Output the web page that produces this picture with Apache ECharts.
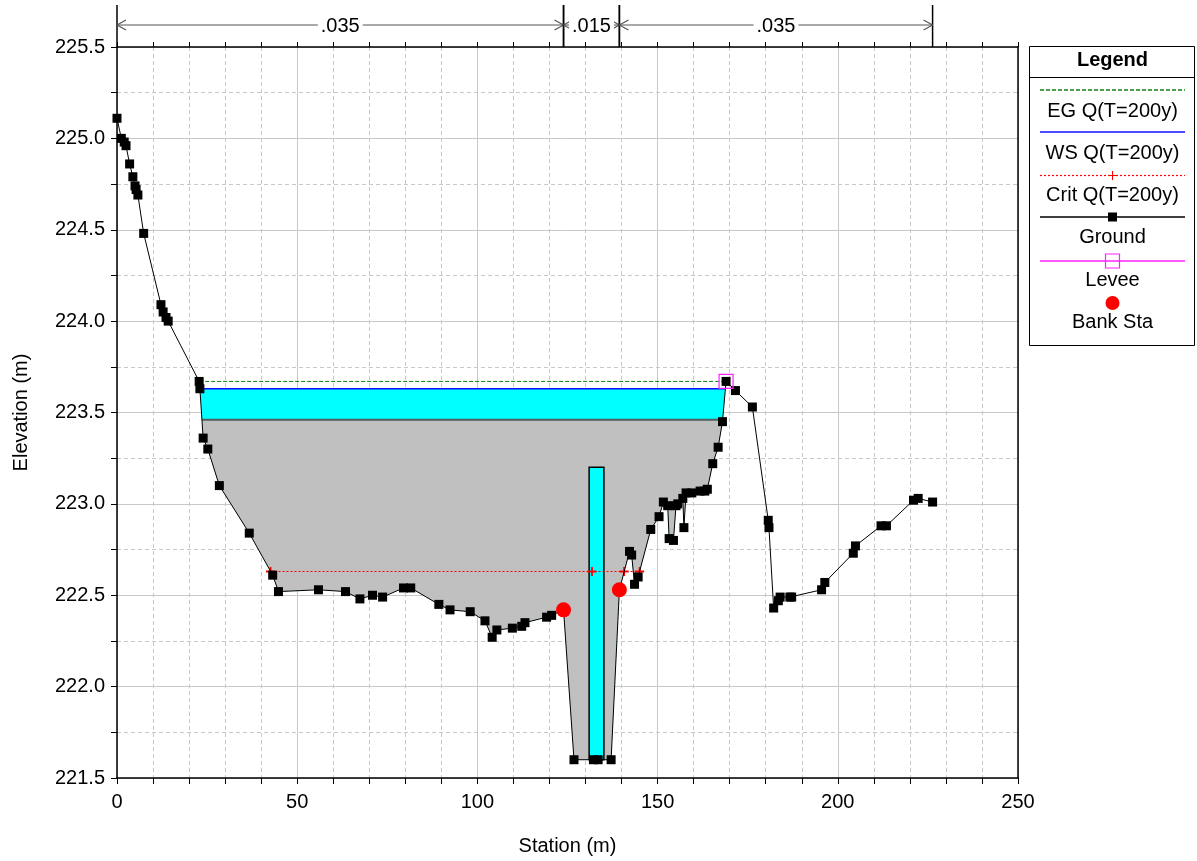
<!DOCTYPE html>
<html><head><meta charset="utf-8">
<script src="https://cdn.jsdelivr.net/npm/echarts@6/dist/echarts.min.js"></script>
<style>html,body{margin:0;padding:0;background:#fff}#c{width:1197px;height:861px}</style>
</head><body><div id="c"></div>
<script>
// ---------------- data ----------------
const groundStation = [0, 1.2, 2.0, 2.5, 3.5, 4.4, 5.0, 5.3, 5.8, 7.4, 12.2, 12.8, 13.6, 14.2,
  22.8, 23.0, 23.9, 25.2, 28.4, 36.7, 43.2, 44.8, 55.9, 63.4, 67.4, 70.9, 73.7, 79.5, 81.5,
  89.3, 92.4, 98.0, 102.1, 104.1, 105.4, 109.7, 112.3, 113.2, 119.2, 120.6, 123.9,
  126.8, 132.2, 133.5, 137.1, 139.4, 142.2, 142.8, 143.6, 144.6, 148.1, 150.4, 151.6, 152.8,
  153.2, 154.4, 155.1, 155.6, 157.0, 157.3, 157.9, 159.5, 161.8, 163.1, 163.8, 165.3, 166.8,
  168.0, 169.0, 171.6, 176.3, 180.7, 180.9, 182.2, 183.5, 184.0, 186.7, 187.2, 195.5, 196.4,
  204.3, 204.9, 212.0, 213.5, 221.0, 222.3, 226.3];
const groundElev = [225.11, 225.00, 224.98, 224.96, 224.86, 224.79, 224.74, 224.72, 224.69, 224.48,
  224.09, 224.05, 224.02, 224.00, 223.67, 223.63, 223.36, 223.30, 223.10, 222.84, 222.61, 222.52,
  222.53, 222.52, 222.48, 222.50, 222.49, 222.54, 222.54, 222.45, 222.42, 222.41, 222.36, 222.27,
  222.31, 222.32, 222.33, 222.35, 222.38, 222.39, 222.42, 221.60, 221.60, 221.60, 221.60, 222.53,
  222.74, 222.72, 222.56, 222.60, 222.86, 222.93, 223.01, 222.99, 222.81, 222.80, 222.99, 223.00,
  223.03, 222.87, 223.06, 223.06, 223.07, 223.07, 223.08, 223.22, 223.31, 223.45, 223.67, 223.62,
  223.53, 222.91, 222.87, 222.43, 222.47, 222.49, 222.49, 222.49, 222.53, 222.57, 222.73, 222.77,
  222.88, 222.88, 223.02, 223.03, 223.01];
const bankStation = [123.9, 139.4];
const bankElev = [222.42, 222.53];
const leveeStation = [169.0];
const leveeElev = [223.67];
const egElev = 223.67;
const wsElev = 223.63;
const iceBottomElev = 223.46;
const critElev = 222.63;
const critStations = [42.6, 131.8, 140.7, 145.0];
const pierStations = [131.0, 135.1];
const pierElevs = [221.60, 223.20];
const nBreaks = [0, 123.9, 139.4, 226.3];
const nValues = ['.035', '.015', '.035'];
const legendLabels = ['EG Q(T=200y)', 'WS Q(T=200y)', 'Crit Q(T=200y)', 'Ground', 'Levee', 'Bank Sta'];

// ---------------- helpers ----------------
const FONT = '"Liberation Sans", Arial, Helvetica, sans-serif';
function crossings(level) {
  let iMin = 0;
  for (let i = 1; i < groundElev.length; i++) if (groundElev[i] < groundElev[iMin]) iMin = i;
  let iL = iMin; while (iL > 0 && groundElev[iL - 1] < level) iL--;
  let iR = iMin; while (iR < groundElev.length - 1 && groundElev[iR + 1] < level) iR++;
  const interp = (a, b) => {
    const t = (level - groundElev[a]) / (groundElev[b] - groundElev[a]);
    return groundStation[a] + t * (groundStation[b] - groundStation[a]);
  };
  return { iL, iR, left: interp(iL - 1, iL), right: interp(iR, iR + 1) };
}
function fillSeries(level, color, z) {
  const c = crossings(level);
  const pts = [[c.left, level]];
  for (let i = c.iL; i <= c.iR; i++) pts.push([groundStation[i], groundElev[i]]);
  pts.push([c.right, level]);
  return {
    type: 'custom', z, silent: true, data: [[c.left, level]],
    renderItem: (p, api) => ({ type: 'polygon', shape: { points: pts.map(q => api.coord(q)) }, style: { fill: color } })
  };
}
function levelLine(level, color, width, type, z) {
  const c = crossings(level);
  return { type: 'line', z, silent: true, symbol: 'none', data: [[c.left, level], [c.right, level]],
    lineStyle: { color, width, type } };
}

const ground = groundStation.map((s, i) => [s, groundElev[i]]);

const option = {
  backgroundColor: '#fff',
  animation: false,
  grid: { left: 117, right: 179, top: 47, bottom: 80 },
  xAxis: [{
    type: 'value', min: 0, max: 250, interval: 50, position: 'bottom',
    name: 'Station (m)', nameLocation: 'middle', nameGap: 58,
    nameTextStyle: { fontFamily: FONT, fontSize: 20, color: '#000' },
    axisLine: { show: true, onZero: false, lineStyle: { color: '#000', width: 1.5 } },
    axisTick: { show: true, length: 6, lineStyle: { color: '#000' } },
    minorTick: { show: true, splitNumber: 5, length: 6, lineStyle: { color: '#000' } },
    axisLabel: { fontFamily: FONT, fontSize: 20, color: '#000', margin: 14 },
    splitLine: { show: true, lineStyle: { color: '#c8c8c8', width: 1 } },
    minorSplitLine: { show: true, lineStyle: { color: '#c8c8c8', width: 1, type: [4, 3] } }
  }, {
    type: 'value', min: 0, max: 250, interval: 10, position: 'top',
    axisLine: { show: true, onZero: false, lineStyle: { color: '#000', width: 1.5 } },
    axisTick: { show: true, length: 5, lineStyle: { color: '#000' } },
    axisLabel: { show: false }, splitLine: { show: false }
  }],
  yAxis: [{
    type: 'value', min: 221.5, max: 225.5, interval: 0.5,
    name: 'Elevation (m)', nameLocation: 'middle', nameGap: 86,
    nameTextStyle: { fontFamily: FONT, fontSize: 20, color: '#000' },
    axisLine: { show: true, onZero: false, lineStyle: { color: '#000', width: 1.5 } },
    axisTick: { show: true, length: 6, lineStyle: { color: '#000' } },
    minorTick: { show: true, splitNumber: 2, length: 6, lineStyle: { color: '#000' } },
    axisLabel: { fontFamily: FONT, fontSize: 20, color: '#000', margin: 12, formatter: v => v.toFixed(1) },
    splitLine: { show: true, lineStyle: { color: '#c8c8c8', width: 1 } },
    minorSplitLine: { show: true, lineStyle: { color: '#c8c8c8', width: 1, type: [4, 3] } }
  }, {
    type: 'value', min: 221.5, max: 225.5, position: 'right',
    axisLine: { show: true, onZero: false, lineStyle: { color: '#000', width: 1.5 } },
    axisTick: { show: false }, axisLabel: { show: false }, splitLine: { show: false }
  }],
  series: [
    fillSeries(wsElev, '#00ffff', 1),
    fillSeries(iceBottomElev, '#c0c0c0', 2),
    levelLine(iceBottomElev, '#4f5f5f', 2, 'solid', 3),
    {
      type: 'custom', z: 4, silent: true, data: [[pierStations[0], pierElevs[1]]],
      renderItem: (p, api) => {
        const a = api.coord([pierStations[0], pierElevs[1]]);
        const b = api.coord([pierStations[1], pierElevs[0]]);
        return { type: 'rect', shape: { x: a[0], y: a[1], width: b[0] - a[0], height: b[1] - a[1] },
          style: { fill: '#00ffff', stroke: '#000', lineWidth: 1.5 } };
      }
    },
    {
      type: 'line', z: 5, silent: true, data: critStations.map(s => [s, critElev]),
      symbol: 'path://M4,0H6V4H10V6H6V10H4V6H0V4H4Z', symbolSize: 9,
      itemStyle: { color: '#ff0000' }, lineStyle: { color: '#ff0000', width: 1.2, type: [2, 2] }
    },
    levelLine(wsElev, '#1010ff', 1.5, 'solid', 6),
    levelLine(egElev, '#108010', 1, [4, 2], 7),
    {
      type: 'line', z: 8, silent: true, data: ground, symbol: 'rect', symbolSize: 9,
      itemStyle: { color: '#000' }, lineStyle: { color: '#000', width: 1 }
    },
    {
      type: 'scatter', z: 9, silent: true, data: leveeStation.map((s, i) => [s, leveeElev[i]]),
      symbol: 'rect', symbolSize: 14,
      itemStyle: { color: 'rgba(0,0,0,0)', borderColor: '#ff22ff', borderWidth: 1.2, opacity: 1 }
    },
    {
      type: 'scatter', z: 10, silent: true, data: bankStation.map((s, i) => [s, bankElev[i]]),
      symbol: 'circle', symbolSize: 15, itemStyle: { color: '#ff0000', opacity: 1 }
    },
    {
      type: 'custom', z: 11, silent: true, clip: false,
      data: nValues.map((v, i) => [nBreaks[i], 225.5]),
      renderItem: (p, api) => {
        const i = p.dataIndex;
        const a = api.coord([nBreaks[i], 225.5]);
        const b = api.coord([nBreaks[i + 1], 225.5]);
        const y0 = a[1], ya = y0 - 22;
        const col = '#555';
        const L = (x1, y1, x2, y2, c, w) => ({ type: 'line', shape: { x1, y1, x2, y2 }, style: { stroke: c, lineWidth: w } });
        return { type: 'group', children: [
          L(a[0], y0 - 42, a[0], y0, '#000', 1.5),
          L(b[0], y0 - 42, b[0], y0, '#000', 1.5),
          L(a[0], ya, b[0], ya, col, 1),
          L(a[0], ya, a[0] + 9, ya - 5, col, 1.2), L(a[0], ya, a[0] + 9, ya + 5, col, 1.2),
          L(b[0], ya, b[0] - 9, ya - 5, col, 1.2), L(b[0], ya, b[0] - 9, ya + 5, col, 1.2),
          { type: 'text', x: (a[0] + b[0]) / 2, y: ya + 1,
            style: { text: nValues[i], fontFamily: FONT, fontSize: 20, fill: '#000', align: 'center', verticalAlign: 'middle',
              backgroundColor: '#fff', padding: [0, 3] } }
        ] };
      }
    }
  ],
  graphic: (function () {
    const x1 = 1040, x2 = 1185, cx = 1112.5;
    const T = (t, y, bold) => ({ type: 'text', x: cx, y, style: { text: t, fontFamily: FONT, fontSize: 20,
      fontWeight: bold ? 'bold' : 'normal', fill: '#000', align: 'center', verticalAlign: 'middle' } });
    const Ln = (y, c, dash) => ({ type: 'line', shape: { x1, y1: y, x2, y2: y }, style: { stroke: c, lineWidth: dash === 'dot' ? 1.2 : 1.5, lineDash: dash === 'dash' ? [4, 2] : dash === 'dot' ? [2, 2] : null } });
    return [
      { type: 'rect', shape: { x: 1029.5, y: 46.5, width: 165, height: 299 }, style: { fill: '#fff', stroke: '#000', lineWidth: 1 } },
      { type: 'line', shape: { x1: 1029.5, y1: 77.5, x2: 1194.5, y2: 77.5 }, style: { stroke: '#000', lineWidth: 1 } },
      T('Legend', 60, true),
      Ln(90, '#108010', 'dash'), T(legendLabels[0], 111),
      Ln(132, '#1010ff'), T(legendLabels[1], 153),
      Ln(175.5, '#ff0000', 'dot'),
      { type: 'line', shape: { x1: cx, y1: 171, x2: cx, y2: 180 }, style: { stroke: '#ff0000', lineWidth: 1 } },
      { type: 'line', shape: { x1: cx - 4.5, y1: 175.5, x2: cx + 4.5, y2: 175.5 }, style: { stroke: '#ff0000', lineWidth: 1 } },
      T(legendLabels[2], 195),
      Ln(217, '#000'), { type: 'rect', shape: { x: cx - 4.5, y: 212.5, width: 9, height: 9 }, style: { fill: '#000' } },
      T(legendLabels[3], 237),
      Ln(261, '#ff22ff'), { type: 'rect', shape: { x: cx - 7, y: 254, width: 14, height: 14 }, style: { fill: 'rgba(0,0,0,0)', stroke: '#ff22ff', lineWidth: 1.2 } },
      T(legendLabels[4], 280),
      { type: 'circle', shape: { cx, cy: 303, r: 7 }, style: { fill: '#ff0000' } },
      T(legendLabels[5], 322)
    ];
  })()
};
const chart = echarts.init(document.getElementById('c'), null, { renderer: 'canvas' });
chart.setOption(option);
</script>
</body></html>
